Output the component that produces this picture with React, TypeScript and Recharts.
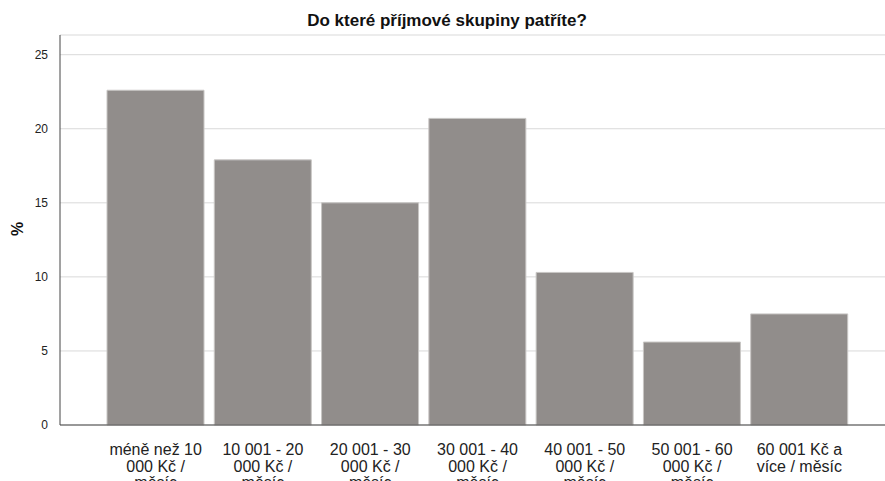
import { BarChart, Bar, XAxis, YAxis, CartesianGrid } from "recharts";

const CATEGORIES = [
  "méně než 10 000 Kč / měsíc",
  "10 001 - 20 000 Kč / měsíc",
  "20 001 - 30 000 Kč / měsíc",
  "30 001 - 40 000 Kč / měsíc",
  "40 001 - 50 000 Kč / měsíc",
  "50 001 - 60 000 Kč / měsíc",
  "60 001 Kč a více / měsíc",
];
const PERCENT = [22.6, 17.9, 15.0, 20.7, 10.3, 5.6, 7.5];
const Y_TICKS = [0, 5, 10, 15, 20, 25];
const TITLE = "Do které příjmové skupiny patříte?";
const Y_LABEL = "%";

const FONT = "'Liberation Sans', Arial, sans-serif";

const data = CATEGORIES.map((c, i) => ({ skupina: c, pct: PERCENT[i] }));

// greedy word wrap, SPSS-style
function wrap(s: string, max = 12) {
  const lines: string[] = [];
  let cur = "";
  for (const w of s.split(" ")) {
    const next = cur ? cur + " " + w : w;
    if (next.length > max && cur) {
      lines.push(cur);
      cur = w;
    } else cur = next;
  }
  if (cur) lines.push(cur);
  return lines;
}

function CatTick({ x, y, payload }: any) {
  const lines = wrap(String(payload.value));
  return (
    <text x={x} y={y} textAnchor="middle" fill="#222" fontSize={16} fontFamily={FONT}>
      {lines.map((l, i) => (
        <tspan key={i} x={x} y={y + 22 + i * 16.5}>{l}</tspan>
      ))}
    </text>
  );
}

export default function App() {
  return (
    <div style={{ position: "absolute", left: 0, top: 0, width: 885, height: 481, background: "#fff", fontFamily: FONT }}>
      <div style={{ position: "absolute", left: 447, top: 12, transform: "translateX(-50%)", fontSize: 17, lineHeight: "17px", fontWeight: "bold", color: "#111", whiteSpace: "nowrap" }}>
        {TITLE}
      </div>
      <div style={{ position: "absolute", left: 18, top: 229, transform: "translate(-50%, -50%) rotate(-90deg)", fontSize: 16, fontWeight: "bold", color: "#111" }}>
        {Y_LABEL}
      </div>
      <BarChart width={885} height={481} data={data} margin={{ top: 35, right: 0, bottom: 0, left: 0 }} barCategoryGap={5}>
        <CartesianGrid vertical={false} stroke="#d9d9d9" />
        <XAxis
          dataKey="skupina"
          interval={0}
          height={56}
          padding={{ left: 42, right: 32 }}
          tickLine={false}
          axisLine={{ stroke: "#444" }}
          tick={<CatTick />}
        />
        <YAxis
          domain={[0, 26.33]}
          ticks={Y_TICKS}
          width={60}
          tickLine={false}
          axisLine={{ stroke: "#444" }}
          tick={{ fill: "#222", fontSize: 12, fontFamily: FONT }}
          tickMargin={6}
        />
        <Bar dataKey="pct" fill="#918d8b" stroke="#c8c6c4" strokeWidth={1} isAnimationActive={false} />
      </BarChart>
    </div>
  );
}
